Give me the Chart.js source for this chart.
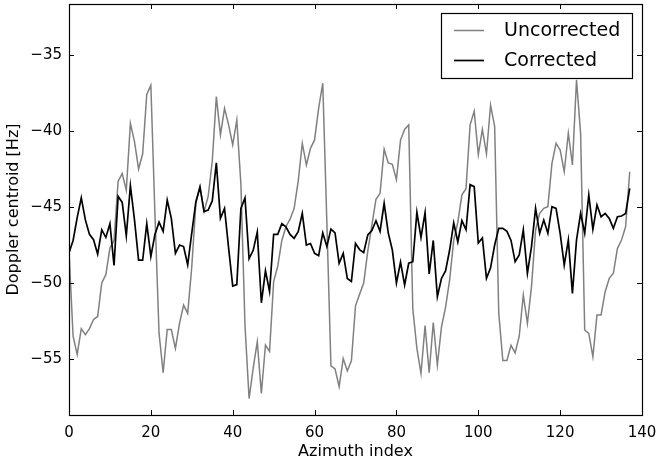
<!DOCTYPE html>
<html>
<head>
<meta charset="utf-8">
<script src="https://cdn.jsdelivr.net/npm/chart.js@4.4.1/dist/chart.umd.min.js"></script>
<style>
  html, body { margin: 0; padding: 0; background: #fff; }
  #wrap { width: 658px; height: 462px; }
</style>
</head>
<body>
<div id="wrap"><canvas id="c" width="658" height="462"></canvas></div>
<script>
const uncorrected = [
  -47.9, -53.5, -54.7, -53.0, -53.4, -53.0, -52.4, -52.2, -50.0, -49.45,
  -47.7, -47.2, -43.3, -42.8, -43.9, -39.5, -40.7, -42.5, -41.5, -37.6,
  -37.0, -45.5, -53.3, -55.9, -53.06, -53.06, -54.3, -52.65, -51.45, -52.0,
  -48.93, -44.76, -43.66, -45.3, -44.3, -42.0, -37.74, -40.26, -38.51, -39.6,
  -40.92, -39.28, -43.5, -52.8, -57.6, -55.6, -53.86, -57.26, -54.08, -54.5,
  -49.91, -48.9, -47.2, -46.3, -45.8, -45.1, -43.3, -40.81, -42.24, -41.14,
  -40.59, -38.5, -36.86, -46.0, -55.45, -55.65, -56.82, -54.96, -55.78, -55.12,
  -51.5, -50.74, -50.0, -47.9, -46.2, -44.5, -44.1, -41.2, -42.1, -42.2,
  -43.2, -40.6, -39.9, -39.6, -51.7, -54.3, -55.94, -52.8, -55.9, -52.6,
  -55.4, -52.9, -51.6, -49.8, -47.2, -46.0, -44.2, -43.8, -39.6, -38.7,
  -41.55, -39.9, -41.5, -38.3, -39.7, -52.0, -55.1, -55.1, -54.1, -54.6,
  -53.5, -50.79, -52.65, -50.24, -46.51, -45.42, -45.09, -44.98, -42.13, -40.81,
  -41.25, -42.68, -40.15, -42.24, -36.64, -40.15, -53.09, -53.31, -54.85, -52.1,
  -52.1, -50.57, -49.69, -49.36, -47.72, -47.17, -46.29, -42.68
];
const corrected = [
  -48.0, -47.2, -45.7, -44.4, -45.85, -46.8, -47.15, -48.1, -46.5, -47.0,
  -46.1, -48.85, -44.3, -44.7, -46.9, -43.6, -45.85, -48.5, -48.5, -46.1,
  -48.25, -46.8, -46.0, -46.6, -44.55, -45.75, -48.05, -47.5, -47.6, -48.8,
  -46.7, -44.65, -43.7, -45.3, -45.2, -44.6, -42.1, -45.75, -45.1, -47.7,
  -50.2, -50.1, -45.1, -44.4, -48.4, -47.85, -46.65, -51.3, -49.2, -50.55,
  -46.8, -46.8, -46.1, -46.3, -46.8, -47.06, -46.62, -45.42, -47.5, -47.4,
  -48.05, -48.2, -46.7, -47.6, -46.45, -46.7, -48.7, -48.05, -49.7, -49.9,
  -47.4, -47.8, -48.0, -46.84, -46.55, -45.9, -46.6, -44.76, -46.7, -47.83,
  -50.0, -48.63, -50.13, -48.7, -48.6, -45.35, -47.0, -45.37, -49.4, -47.2,
  -50.9, -49.7, -49.2, -47.83, -46.05, -47.3, -45.9, -46.5, -43.53, -43.66,
  -47.37, -47.03, -49.69, -49.0, -47.5, -46.4, -46.4, -46.6, -47.2, -48.6,
  -48.15, -46.51, -49.36, -47.61, -45.09, -46.73, -45.86, -46.73, -44.98, -45.09,
  -46.73, -48.82, -47.17, -50.68, -47.17, -45.42, -46.73, -44.21, -46.47, -44.87,
  -45.64, -45.42, -45.75, -46.4, -45.64, -45.59, -45.42, -43.77
];
const azimuthIndex = uncorrected.map((_, i) => i);
const xTicks = [0, 20, 40, 60, 80, 100, 120, 140];
const yTicks = [-55, -50, -45, -40, -35];
const seriesNames = ["Uncorrected", "Corrected"];

const FONT = "'DejaVu Sans', sans-serif";

const toPoints = (vals) => vals.map((v, i) => ({ x: azimuthIndex[i], y: v }));

const frameAndTicks = {
  id: 'frameAndTicks',
  afterDatasetsDraw(chart) {
    const { ctx, chartArea: a, scales } = chart;
    ctx.save();
    ctx.strokeStyle = '#000';
    ctx.lineWidth = 1;
    const L = 5;
    ctx.beginPath();
    xTicks.forEach(t => {
      const px = Math.round(scales.x.getPixelForValue(t)) + 0.5;
      ctx.moveTo(px, a.bottom); ctx.lineTo(px, a.bottom - L);
      ctx.moveTo(px, a.top); ctx.lineTo(px, a.top + L);
    });
    yTicks.forEach(t => {
      const py = Math.round(scales.y.getPixelForValue(t)) + 0.5;
      ctx.moveTo(a.left, py); ctx.lineTo(a.left + L, py);
      ctx.moveTo(a.right, py); ctx.lineTo(a.right - L, py);
    });
    ctx.stroke();
    ctx.lineWidth = 1.2;
    ctx.strokeRect(Math.round(a.left) + 0.5, Math.round(a.top) + 0.5,
                   Math.round(a.right - a.left), Math.round(a.bottom - a.top));
    ctx.restore();
  }
};

const boxLegend = {
  id: 'boxLegend',
  afterDraw(chart) {
    const { ctx } = chart;
    const bx = 441.5, by = 13.5, bw = 191, bh = 65;
    ctx.save();
    ctx.fillStyle = '#fff';
    ctx.fillRect(bx, by, bw, bh);
    ctx.strokeStyle = '#000';
    ctx.lineWidth = 1.2;
    ctx.strokeRect(bx, by, bw, bh);
    const order = [0, 1];
    order.forEach((di, k) => {
      const ds = chart.data.datasets[di];
      const cy = 30 + k * 30;
      ctx.strokeStyle = ds.borderColor;
      ctx.lineWidth = ds.borderWidth;
      ctx.beginPath();
      ctx.moveTo(454, cy + 0.5); ctx.lineTo(484, cy + 0.5);
      ctx.stroke();
      ctx.fillStyle = '#000';
      ctx.font = '19px ' + FONT;
      ctx.textBaseline = 'middle';
      ctx.textAlign = 'left';
      ctx.fillText(ds.label, 504, cy + 1);
    });
    ctx.restore();
  }
};

const whiteBg = {
  id: 'whiteBg',
  beforeDraw(chart) {
    const { ctx } = chart;
    ctx.save();
    ctx.fillStyle = '#fff';
    ctx.fillRect(0, 0, chart.width, chart.height);
    ctx.restore();
  }
};

new Chart(document.getElementById('c'), {
  type: 'line',
  data: {
    datasets: [
      { label: seriesNames[0], data: toPoints(uncorrected), borderColor: '#808080',
        borderWidth: 1.5, pointRadius: 0, tension: 0, fill: false, order: 2 },
      { label: seriesNames[1], data: toPoints(corrected), borderColor: '#000000',
        borderWidth: 1.7, pointRadius: 0, tension: 0, fill: false, order: 1 }
    ]
  },
  options: {
    responsive: false,
    animation: false,
    devicePixelRatio: 1,
    layout: { padding: { left: 0, right: 16, top: 4, bottom: 0 } },
    plugins: { legend: { display: false }, tooltip: { enabled: false } },
    scales: {
      x: {
        type: 'linear', min: 0, max: 140,
        afterBuildTicks: (s) => { s.ticks = xTicks.map(v => ({ value: v })); },
        afterFit: (s) => { s.height = 47; s.paddingLeft = 0; s.paddingRight = 0; },
        grid: { display: false, drawTicks: false },
        border: { display: false },
        ticks: { color: '#000', padding: 9, maxRotation: 0, autoSkip: false,
                 font: { family: FONT, size: 15 } },
        title: { display: true, text: 'Azimuth index', color: '#000',
                 font: { family: FONT, size: 16 }, padding: { top: 0, bottom: 1 } }
      },
      y: {
        type: 'linear', min: -58.68, max: -31.65,
        afterBuildTicks: (s) => { s.ticks = yTicks.map(v => ({ value: v })); },
        afterFit: (s) => { s.width = 69; s.paddingTop = 0; s.paddingBottom = 0; },
        grid: { display: false, drawTicks: false },
        border: { display: false },
        ticks: { color: '#000', padding: 7, autoSkip: false,
                 font: { family: FONT, size: 15 },
                 callback: (v) => String(v).replace('-', '\u2212') },
        title: { display: true, text: 'Doppler centroid [Hz]', color: '#000',
                 font: { family: FONT, size: 16 }, padding: { top: 4, bottom: 0 } }
      }
    }
  },
  plugins: [whiteBg, frameAndTicks, boxLegend]
});
</script>
</body>
</html>
